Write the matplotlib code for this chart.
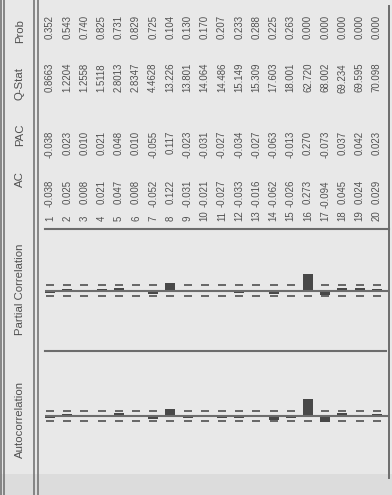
import numpy as np
import matplotlib
matplotlib.use("Agg")
import matplotlib.pyplot as plt

# Correlogram values, lags 1..20
lags = list(range(1, 21))
ac = [-0.038, 0.025, 0.008, 0.021, 0.047, 0.008, -0.052, 0.122, -0.031, -0.021,
      -0.027, -0.033, -0.016, -0.062, -0.026, 0.273, -0.094, 0.045, 0.024, 0.029]
pac = [-0.038, 0.023, 0.010, 0.021, 0.048, 0.010, -0.055, 0.117, -0.023, -0.031,
       -0.027, -0.034, -0.027, -0.063, -0.013, 0.270, -0.073, 0.037, 0.042, 0.023]
qstat = [0.8663, 1.2204, 1.2558, 1.5118, 2.8013, 2.8347, 4.4628, 13.226, 13.801, 14.064,
         14.486, 15.149, 15.309, 17.603, 18.001, 62.720, 68.002, 69.234, 69.595, 70.098]
prob = [0.352, 0.543, 0.740, 0.825, 0.731, 0.829, 0.725, 0.104, 0.130, 0.170,
        0.207, 0.233, 0.288, 0.225, 0.263, 0.000, 0.000, 0.000, 0.000, 0.000]
headers = ["Autocorrelation", "Partial Correlation", "AC", "PAC", "Q-Stat", "Prob"]
n_obs = 600
bound = 2.0 / np.sqrt(n_obs)

W, H = 392, 495
BG = "#e8e8e8"
INK = "#505050"
LINE = "#6c6c6c"
BAR = "#484848"
FONT = "Liberation Sans"

fig = plt.figure(figsize=(W / 100, H / 100), dpi=100)
fig.patch.set_facecolor(BG)

# pixel-space frame for rules and headers
frame = fig.add_axes([0, 0, 1, 1])
frame.set_xlim(0, W)
frame.set_ylim(H, 0)
frame.axis("off")
frame.axhspan(474, H, color="#dcdcdc", lw=0, zorder=0)

for x in (1.5, 4.0, 34.5, 38.0):
    frame.plot([x, x], [0, H], color=LINE, lw=1.1, solid_capstyle="butt")
frame.plot([389.5, 389.5], [6, 478], color=LINE, lw=1.4)
frame.plot([45, 389.5], [229, 229], color=LINE, lw=1.5)
frame.plot([45, 386], [351, 351], color=LINE, lw=1.5)

# lag axis shared by the table and the two correlation strips
lag0_px, step_px = 50.0, 17.2
xlo = 1 - lag0_px / step_px
xhi = 1 + (W - lag0_px) / step_px

tab = fig.add_axes([0, 0, 1, 1])
tab.set_xlim(xlo, xhi)
tab.set_ylim(H, 0)
tab.axis("off")
tab.patch.set_alpha(0)

num_kw = dict(rotation=90, ha="center", fontsize=6.9, color=INK, family=FONT)
for i, lag in enumerate(lags):
    tab.text(lag, 221, f"{lag}", va="bottom", **num_kw)
    tab.text(lag, 180, f"{ac[i]:.3f}", va="top", **num_kw)
    tab.text(lag, 131, f"{pac[i]:.3f}", va="top", **num_kw)
    q = qstat[i]
    tab.text(lag, 63, f"{q:.4f}" if q < 10 else f"{q:.3f}", va="top", **num_kw)
    tab.text(lag, 15, f"{prob[i]:.3f}", va="top", **num_kw)

hdr_kw = dict(rotation=90, ha="center", va="center", fontsize=8.2, color=INK, family=FONT)
for label, yc in zip(headers, (420, 289, 179, 135, 83, 31)):
    frame.text(20, yc, label, **hdr_kw)


def strip(top_px, bot_px, values):
    ax = fig.add_axes([0, (H - bot_px) / H, 1, (bot_px - top_px) / H])
    ax.set_xlim(xlo, xhi)
    ax.set_ylim(-1, 1)
    ax.axis("off")
    ax.patch.set_alpha(0)
    ax.plot(lags, [bound] * len(lags), ls="none", marker="_", ms=5.5, mew=1.2, color=INK, zorder=1)
    ax.plot(lags, [-bound] * len(lags), ls="none", marker="_", ms=5.5, mew=1.2, color=INK, zorder=1)
    ax.bar(lags, values, width=0.58, color=BAR, zorder=2)
    ax.hlines(0, 1 - 5 / step_px, 1 + 339 / step_px, color=LINE, lw=1.5, zorder=3)
    return ax


strip(229, 352, pac)
strip(355, 477, ac)

fig.savefig("out.png", dpi=100, facecolor=BG)
